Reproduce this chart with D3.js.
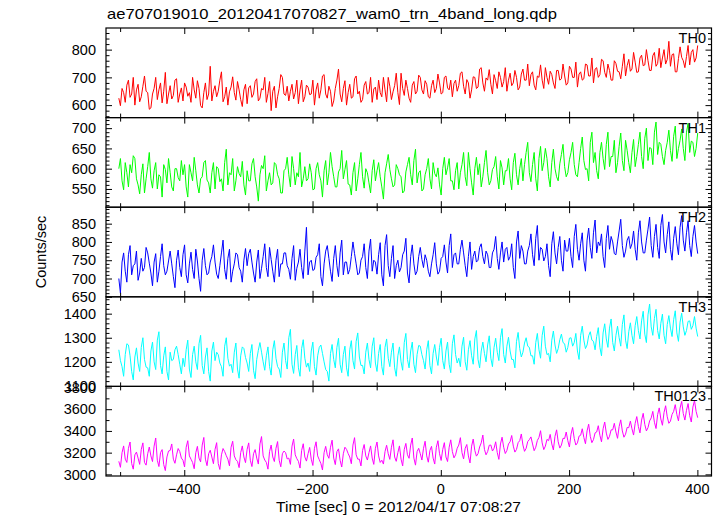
<!DOCTYPE html>
<html>
<head>
<meta charset="utf-8">
<script src="https://cdn.jsdelivr.net/npm/d3@7"></script>
<style>
  html, body { margin: 0; padding: 0; background: #fff; }
  svg text { font-family: "Liberation Sans", Arial, Helvetica, sans-serif; fill: #000; }
</style>
</head>
<body>
<svg id="chart" width="723" height="516"></svg>
<script>
// ---- data ----
const title = "ae707019010_20120417070827_wam0_trn_4band_long.qdp";
const xLabel = "Time [sec] 0 = 2012/04/17 07:08:27";
const yLabel = "Counts/sec";
const timeStart = -502;   // first bin time [sec]
const timeStep = 2.5;     // bin width [sec]
const xTickValues = [-400, -200, 0, 200, 400];
const xMinorTickValues = [-500, -300, -100, 100, 300];

const panelNames = ["TH0", "TH1", "TH2", "TH3", "TH0123"];
const panelColors = ["#ff0000", "#00ff00", "#0000ff", "#00ffff", "#ff00ff"];
const panelDomains = [[555, 878], [505, 726], [650, 895], [1098, 1470], [2985, 3810]];
const panelMajorTicks = [[600, 700, 800], [550, 600, 650, 700], [650, 700, 750, 800, 850], [1100, 1200, 1300, 1400], [3000, 3200, 3400, 3600, 3800]];
const panelMinorStep = [20, 10, 10, 20, 100];

const th0 = [
625,598,660,645,610,672,690,628,640,700,600,655,675,612,630,668,705,650,645,585,590,640,660,700,620,655,680,608,650,718,605,640,670,622,635,690,695,610,640,662,
615,680,665,632,645,610,700,655,625,688,660,598,590,645,680,620,640,740,615,650,670,630,650,690,720,612,630,665,600,648,665,702,645,618,685,655,620,595,655,675,
605,662,670,628,640,685,695,615,625,660,655,700,610,642,685,580,650,668,590,630,660,710,700,640,635,668,615,650,675,622,645,690,605,655,690,612,630,672,665,638,
640,690,600,655,680,625,655,705,710,640,625,668,650,595,615,660,690,730,640,612,660,688,600,645,675,625,630,695,705,640,650,610,620,672,685,640,645,700,610,658,
665,620,690,645,630,700,655,612,700,668,620,648,670,715,645,602,715,660,635,690,660,625,610,672,685,640,650,708,700,655,640,688,675,630,625,670,690,645,660,712,
680,640,645,700,705,662,655,690,630,678,690,650,670,715,720,668,640,692,680,625,655,702,700,660,665,730,735,680,650,698,690,728,675,640,710,688,660,720,700,665,
685,735,650,690,715,670,680,725,700,655,665,712,730,690,690,748,670,710,720,672,655,705,700,745,690,660,735,700,675,722,710,680,660,725,725,690,695,748,705,672,
680,740,730,700,700,755,665,712,720,690,695,748,745,705,705,770,680,730,735,700,710,765,760,718,700,748,725,690,690,760,750,722,720,695,740,785,705,742,765,722,
730,790,755,718,720,770,780,742,745,800,760,725,725,778,790,740,750,805,735,770,800,748,765,830,740,782,785,720,720,768,810,772,760,735,775,815,745,790,800,755,
770,815];

const th1 = [
600,625,570,548,615,590,555,610,590,632,625,575,560,538,585,612,540,575,605,640,575,552,595,615,550,585,580,530,610,598,565,625,590,555,545,600,600,578,570,620,
585,610,555,530,610,590,570,628,595,560,540,575,580,615,620,572,565,540,590,615,550,605,600,568,575,545,615,648,560,590,585,625,545,570,605,588,580,618,560,535,
595,570,570,612,625,580,555,520,585,608,600,632,545,570,590,560,565,615,610,585,575,540,540,595,600,628,585,555,630,600,560,590,580,640,555,575,605,570,575,612,
590,548,550,600,615,585,570,530,595,620,560,590,640,605,580,555,555,592,600,645,575,598,620,562,560,535,590,615,545,575,610,640,580,552,600,590,565,540,595,622,
570,595,615,580,555,525,590,612,635,598,575,555,560,610,600,585,580,540,545,592,610,628,585,560,620,648,565,590,595,545,550,585,600,625,575,550,615,588,580,602,
560,535,600,628,585,602,625,570,570,548,595,615,550,590,610,640,580,558,640,600,565,535,600,628,585,612,555,580,615,645,590,560,570,598,605,630,580,550,620,602,
560,595,595,625,575,548,615,638,585,560,600,625,570,610,640,665,590,568,610,640,575,545,625,655,595,615,650,625,580,555,615,648,600,580,570,612,635,660,605,580,
590,622,640,665,610,585,580,615,650,678,620,598,600,570,665,690,615,640,595,575,640,665,625,598,660,690,605,630,630,670,590,615,655,688,620,595,670,645,615,590,
640,672,605,630,660,690,630,600,675,700,620,652,650,610,690,715,635,665,660,630,610,645,665,695,645,618,680,705,625,650,670,698,650,620,690,712,640,668,665,630,
650,688];

const th2 = [
700,660,745,770,720,690,765,790,710,735,740,775,695,715,755,720,730,785,770,742,715,680,745,768,690,720,760,795,735,710,720,748,775,740,705,675,750,778,730,705,
765,792,710,688,740,772,725,700,780,748,700,665,750,782,735,710,715,745,760,792,745,712,700,735,770,805,725,698,755,780,690,720,740,770,765,730,720,690,750,782,
735,768,780,745,715,690,745,778,700,728,760,795,730,705,785,752,720,690,750,780,705,740,740,770,770,735,725,698,755,790,695,728,745,780,730,700,775,840,710,745,
750,722,725,758,765,795,705,680,740,775,790,755,720,692,755,790,735,705,770,805,710,745,745,712,725,760,800,768,740,710,715,750,760,795,730,700,775,808,720,750,
745,712,765,798,710,680,790,820,735,705,755,790,700,735,750,718,730,765,775,810,715,688,760,792,740,710,720,760,785,752,730,765,750,720,705,740,765,798,740,712,
720,755,760,792,745,715,790,822,730,765,770,740,740,780,805,770,735,705,760,800,725,760,775,745,750,785,795,760,740,775,765,730,730,770,780,815,755,725,770,800,
745,780,785,750,760,795,730,700,800,830,755,790,775,740,740,775,790,822,765,735,810,845,750,785,780,748,760,795,735,705,795,828,770,740,785,815,750,720,805,775,
775,810,760,730,815,848,780,750,795,825,750,720,805,838,785,755,825,860,770,800,790,822,760,730,810,845,780,815,800,768,765,800,830,862,790,758,775,805,815,782,
795,830,780,750,825,858,800,770,770,805,835,868,790,758,815,848,785,755,845,875,800,770,820,855,780,750,810,842,795,765,840,872,805,775,825,858,790,760,815,845,
800,768];

const th3 = [
1250,1205,1180,1140,1230,1275,1270,1225,1160,1125,1220,1258,1195,1160,1260,1300,1210,1178,1175,1140,1245,1282,1200,1168,1290,1325,1185,1150,1225,1262,1160,1125,1240,1205,1210,1250,1265,1230,1190,1150,
1215,1180,1250,1290,1170,1135,1230,1265,1200,1168,1275,1310,1185,1150,1220,1258,1160,1120,1245,1282,1205,1240,1230,1195,1180,1140,1265,1300,1215,1182,1190,1155,1240,1278,1170,1132,1225,1262,1255,1218,
1195,1160,1235,1272,1165,1130,1210,1248,1280,1240,1200,1165,1225,1262,1180,1145,1250,1288,1215,1180,1170,1135,1240,1278,1205,1170,1300,1335,1190,1152,1230,1268,1175,1140,1255,1292,1215,1178,1195,1160,
1245,1282,1180,1145,1225,1260,1270,1235,1200,1168,1160,1120,1235,1272,1210,1175,1260,1298,1190,1155,1230,1265,1175,1140,1250,1288,1205,1170,1285,1320,1220,1185,1185,1150,1240,1278,1210,1175,1265,1300,
1195,1160,1235,1272,1180,1145,1260,1295,1215,1180,1240,1278,1175,1140,1225,1262,1200,1165,1280,1318,1210,1175,1245,1282,1190,1155,1230,1268,1265,1230,1205,1170,1250,1288,1185,1150,1235,1272,1220,1185,
1260,1298,1205,1170,1245,1282,1190,1155,1275,1312,1230,1195,1215,1180,1265,1302,1200,1165,1250,1288,1225,1190,1295,1330,1210,1175,1245,1282,1235,1200,1270,1308,1215,1180,1260,1298,1240,1205,1300,1338,
1230,1195,1265,1302,1245,1210,1210,1175,1285,1322,1255,1220,1240,1278,1300,1265,1260,1225,1225,1190,1280,1318,1250,1215,1310,1348,1265,1230,1235,1200,1290,1328,1270,1235,1255,1292,1315,1280,1275,1240,
1260,1298,1300,1265,1280,1318,1245,1210,1310,1348,1290,1255,1270,1308,1325,1290,1285,1250,1305,1342,1260,1225,1320,1358,1295,1260,1340,1378,1280,1245,1310,1348,1300,1265,1355,1395,1290,1255,1325,1362,
1310,1275,1350,1388,1330,1295,1370,1410,1315,1280,1395,1440,1345,1310,1380,1418,1330,1295,1360,1398,1310,1275,1355,1392,1340,1305,1375,1412,1320,1285,1365,1402,1345,1310,1330,1368,1370,1335,1350,1388,
1340,1305];

const th0123 = [
3120,3065,3200,3262,3140,3110,3240,3298,3100,3048,3180,3205,3150,3092,3230,3290,3110,3085,3190,3252,3170,3118,3260,3335,3130,3072,3200,3228,3090,3035,3160,3215,3220,3280,3140,3102,3180,3238,3210,3150,
3130,3068,3250,3310,3170,3140,3110,3052,3200,3258,3150,3115,3270,3340,3140,3080,3190,3222,3160,3098,3230,3292,3100,3045,3180,3238,3210,3172,3140,3078,3250,3305,3170,3135,3120,3062,3200,3262,3160,3108,
3230,3290,3130,3072,3190,3228,3150,3095,3280,3348,3170,3132,3110,3048,3210,3270,3160,3118,3240,3302,3130,3070,3190,3215,3200,3142,3150,3092,3260,3325,3180,3145,3120,3058,3220,3282,3160,3122,3190,3248,
3140,3082,3240,3300,3170,3135,3100,3040,3200,3258,3180,3148,3250,3315,3150,3090,3210,3235,3130,3068,3190,3250,3230,3192,3160,3098,3270,3338,3180,3140,3140,3078,3220,3275,3170,3132,3200,3262,3150,3092,
3240,3298,3170,3110,3130,3095,3210,3268,3190,3138,3250,3318,3160,3120,3200,3262,3140,3078,3230,3285,3180,3148,3270,3335,3150,3085,3210,3240,3190,3132,3240,3305,3170,3112,3220,3258,3150,3095,3250,3310,
3190,3128,3230,3292,3160,3118,3250,3318,3210,3152,3180,3240,3270,3338,3200,3142,3240,3275,3170,3105,3260,3325,3220,3168,3190,3252,3290,3362,3230,3180,3210,3268,3270,3215,3240,3300,3200,3138,3280,3342,
3250,3192,3220,3280,3300,3358,3260,3205,3230,3292,3310,3372,3270,3212,3240,3302,3320,3345,3280,3218,3250,3312,3340,3402,3290,3228,3260,3322,3310,3368,3280,3225,3350,3410,3300,3242,3270,3332,3330,3390,
3310,3252,3370,3432,3330,3270,3290,3352,3360,3420,3340,3282,3400,3462,3350,3292,3320,3382,3390,3448,3360,3300,3420,3482,3380,3322,3350,3410,3410,3470,3390,3332,3440,3502,3400,3342,3370,3432,3430,3490,
3420,3362,3470,3532,3440,3382,3500,3562,3460,3400,3430,3492,3520,3580,3480,3422,3550,3612,3510,3452,3570,3632,3530,3470,3490,3552,3580,3642,3550,3492,3610,3672,3560,3500,3590,3652,3540,3482,3620,3680,
3580,3522];

const panelSeries = [th0, th1, th2, th3, th0123];

// ---- layout ----
const svg = d3.select("#chart");
const plotLeft = 106, plotRight = 711.5, plotTop = 28, plotBottom = 476;
const nP = panelNames.length;
const pH = (plotBottom - plotTop) / nP;

const x = d3.scaleLinear().domain([-522, 422]).range([plotLeft, plotRight]);
const font = 14.5;

svg.append("text").attr("x", 107).attr("y", 19).attr("font-size", font)
  .attr("textLength", 450).attr("lengthAdjust", "spacingAndGlyphs").text(title);

panelNames.forEach((name, p) => {
  const y0 = plotTop + p * pH, y1 = y0 + pH;
  const y = d3.scaleLinear().domain(panelDomains[p]).range([y1, y0]);
  const g = svg.append("g");

  const data = panelSeries[p].map((v, i) => ({ t: timeStart + i * timeStep, v }));
  const clipId = "clip" + p;
  g.append("clipPath").attr("id", clipId).append("rect")
    .attr("x", plotLeft).attr("y", y0).attr("width", plotRight - plotLeft).attr("height", pH);
  g.append("path").datum(data)
    .attr("clip-path", `url(#${clipId})`)
    .attr("fill", "none").attr("stroke", panelColors[p]).attr("stroke-width", 1)
    .attr("d", d3.line().x(d => x(d.t)).y(d => y(d.v)));

  // frame
  g.append("rect").attr("x", plotLeft).attr("y", y0).attr("width", plotRight - plotLeft).attr("height", pH)
    .attr("fill", "none").attr("stroke", "#000").attr("stroke-width", 1.2);

  // y ticks (left & right, inward)
  const [d0, d1] = panelDomains[p];
  const step = panelMinorStep[p];
  const minor = d3.range(Math.ceil(d0 / step) * step, d1 + 0.001, step)
    .filter(v => !panelMajorTicks[p].includes(v));
  const yAxisL = d3.axisRight(y).tickValues(panelMajorTicks[p]).tickSize(6).tickFormat("");
  const yAxisLm = d3.axisRight(y).tickValues(minor).tickSize(3.5).tickFormat("");
  const yAxisR = d3.axisLeft(y).tickValues(panelMajorTicks[p]).tickSize(6).tickFormat("");
  const yAxisRm = d3.axisLeft(y).tickValues(minor).tickSize(3.5).tickFormat("");
  [[yAxisL, plotLeft], [yAxisLm, plotLeft], [yAxisR, plotRight], [yAxisRm, plotRight]].forEach(([ax, xx]) => {
    const a = g.append("g").attr("transform", `translate(${xx},0)`).call(ax);
    a.select(".domain").remove();
    a.selectAll("line").attr("stroke", "#000");
  });
  // y labels
  panelMajorTicks[p].forEach(v => {
    g.append("text").attr("x", 96).attr("y", y(v)).attr("dy", "0.36em")
      .attr("text-anchor", "end").attr("font-size", font).text(v);
  });

  // x ticks top & bottom, inward
  const xT = d3.axisTop(x).tickValues(xTickValues).tickSize(6).tickFormat("");
  const xTm = d3.axisTop(x).tickValues(xMinorTickValues).tickSize(4).tickFormat("");
  const xB = d3.axisBottom(x).tickValues(xTickValues).tickSize(6).tickFormat("");
  const xBm = d3.axisBottom(x).tickValues(xMinorTickValues).tickSize(4).tickFormat("");
  [[xT, y1], [xTm, y1], [xB, y0], [xBm, y0]].forEach(([ax, yy]) => {
    const a = g.append("g").attr("transform", `translate(0,${yy})`).call(ax);
    a.select(".domain").remove();
    a.selectAll("line").attr("stroke", "#000");
  });

  g.append("text").attr("x", 706).attr("y", y0 + 15).attr("text-anchor", "end")
    .attr("font-size", font).text(name);
});

// x tick labels
xTickValues.forEach(v => {
  svg.append("text").attr("x", x(v)).attr("y", 494).attr("text-anchor", "middle")
    .attr("font-size", font).text(v < 0 ? "\u2212" + Math.abs(v) : v);
});

svg.append("text").attr("x", 398.5).attr("y", 512).attr("text-anchor", "middle")
  .attr("font-size", font).attr("textLength", 245).attr("lengthAdjust", "spacingAndGlyphs").text(xLabel);

svg.append("text").attr("transform", `translate(46,252) rotate(-90)`)
  .attr("text-anchor", "middle").attr("font-size", font).text(yLabel);
</script>
</body>
</html>
